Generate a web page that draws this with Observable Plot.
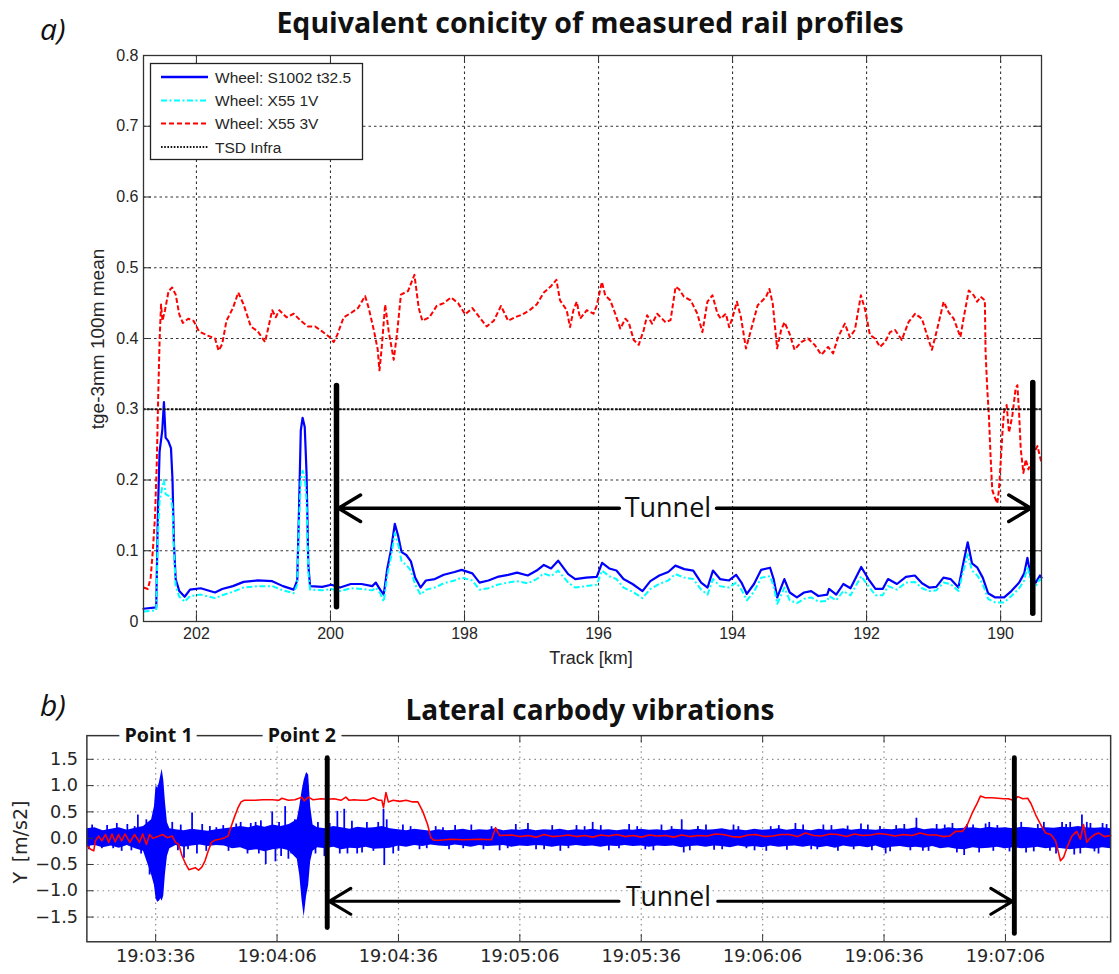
<!DOCTYPE html>
<html><head><meta charset="utf-8">
<script src="https://cdn.jsdelivr.net/npm/d3@7"></script>
<script src="https://cdn.jsdelivr.net/npm/@observablehq/plot@0.6"></script>
<style>
body{margin:0;background:#fff;}
#wrap{position:relative;width:1119px;height:974px;overflow:hidden;background:#fff;}
#wrap svg.chart{position:absolute;left:0;}
#overlay{position:absolute;left:0;top:0;pointer-events:none;}
</style></head>
<body><div id="wrap"></div>
<script>
// ---------------- (a) Equivalent conicity ----------------
const kmTicks = [202, 200, 198, 196, 194, 192, 190];
const kmTickLabels = ["202", "200", "198", "196", "194", "192", "190"];
const conTicks = [0, 0.1, 0.2, 0.3, 0.4, 0.5, 0.6, 0.7, 0.8];
const conTickLabels = ["0", "0.1", "0.2", "0.3", "0.4", "0.5", "0.6", "0.7", "0.8"];
const kmDomain = [202.79, 189.39];
const conDomain = [0, 0.8];

const kmBC = [202.79,202.60,202.576,202.55,202.51,202.485,202.46,202.42,202.38,202.357,
202.336,202.31,202.256,202.176,202.096,201.936,201.723,201.616,201.456,201.296,
201.083,200.869,200.709,200.549,200.496,200.469,200.443,200.416,200.384,200.357,
200.331,200.304,200.123,199.989,199.856,199.696,199.536,199.376,199.323,199.259,
199.205,199.152,199.099,199.04,198.992,198.939,198.869,198.80,198.736,198.656,
198.576,198.443,198.309,198.149,198.043,197.883,197.776,197.643,197.509,197.349,
197.216,197.056,196.923,196.816,196.709,196.603,196.453,196.347,196.187,196.027,
195.947,195.84,195.733,195.627,195.493,195.344,195.227,195.093,194.96,194.853,
194.72,194.587,194.469,194.373,194.293,194.187,194.053,193.947,193.867,193.787,
193.68,193.573,193.44,193.387,193.333,193.227,193.147,193.04,192.933,192.827,
192.72,192.587,192.56,192.453,192.347,192.24,192.08,191.973,191.867,191.76,
191.68,191.547,191.413,191.28,191.173,191.067,190.96,190.853,190.747,190.629,
190.56,190.491,190.427,190.347,190.267,190.187,190.08,189.947,189.84,189.723,
189.648,189.6,189.547,189.477,189.413,189.39];

const wheelS1002 = [0.018,0.020,0.15,0.24,0.27,0.31,0.26,0.255,0.245,0.20,
0.11,0.06,0.043,0.035,0.045,0.047,0.041,0.046,0.050,0.056,
0.058,0.057,0.050,0.045,0.058,0.16,0.27,0.288,0.275,0.21,
0.08,0.050,0.049,0.052,0.048,0.053,0.053,0.050,0.055,0.045,
0.038,0.075,0.10,0.138,0.122,0.098,0.094,0.085,0.062,0.048,
0.058,0.060,0.066,0.070,0.073,0.068,0.055,0.058,0.063,0.066,
0.069,0.065,0.072,0.080,0.075,0.086,0.067,0.060,0.062,0.063,
0.083,0.075,0.072,0.060,0.053,0.043,0.057,0.065,0.070,0.079,
0.074,0.072,0.055,0.048,0.072,0.060,0.058,0.066,0.055,0.039,
0.053,0.073,0.076,0.060,0.034,0.060,0.041,0.034,0.041,0.043,
0.036,0.038,0.046,0.038,0.053,0.047,0.077,0.060,0.046,0.046,
0.060,0.053,0.063,0.065,0.054,0.048,0.049,0.062,0.060,0.048,
0.081,0.112,0.082,0.076,0.062,0.040,0.034,0.034,0.043,0.055,
0.068,0.090,0.062,0.055,0.065,0.062];

const wheelX55_1V = [0.014,0.016,0.12,0.17,0.19,0.20,0.18,0.178,0.175,0.16,
0.10,0.05,0.035,0.028,0.036,0.038,0.033,0.037,0.042,0.048,
0.050,0.050,0.044,0.040,0.052,0.14,0.20,0.213,0.205,0.17,
0.07,0.045,0.044,0.046,0.043,0.047,0.046,0.044,0.048,0.040,
0.028,0.065,0.09,0.125,0.11,0.085,0.08,0.072,0.052,0.038,
0.045,0.048,0.054,0.058,0.062,0.058,0.045,0.047,0.052,0.055,
0.057,0.054,0.060,0.068,0.064,0.072,0.055,0.048,0.050,0.052,
0.072,0.064,0.060,0.048,0.042,0.033,0.046,0.053,0.058,0.067,
0.062,0.060,0.045,0.038,0.060,0.050,0.048,0.055,0.045,0.030,
0.042,0.062,0.064,0.050,0.025,0.048,0.030,0.026,0.032,0.034,
0.028,0.029,0.036,0.030,0.043,0.037,0.064,0.050,0.037,0.037,
0.050,0.045,0.055,0.056,0.047,0.043,0.044,0.055,0.053,0.043,
0.070,0.095,0.072,0.065,0.053,0.032,0.027,0.027,0.036,0.047,
0.058,0.078,0.055,0.050,0.060,0.058];

const kmRed = [202.789,202.725,202.683,202.651,202.619,202.592,202.571,202.549,202.528,202.507,
202.469,202.416,202.363,202.309,202.256,202.203,202.123,202.043,201.963,201.829,
201.723,201.669,201.616,201.552,201.456,201.376,201.296,201.189,201.083,200.976,
200.869,200.816,200.763,200.656,200.549,200.443,200.336,200.229,200.123,200.016,
199.952,199.899,199.803,199.696,199.589,199.483,199.429,199.349,199.296,199.269,
199.237,199.184,199.131,199.056,199.003,198.949,198.843,198.747,198.683,198.629,
198.523,198.416,198.309,198.203,198.096,197.989,197.883,197.776,197.669,197.563,
197.456,197.349,197.243,197.136,197.029,196.923,196.816,196.709,196.629,196.575,
196.475,196.425,196.375,196.325,196.275,196.175,196.075,196.025,195.95,195.9,
195.825,195.75,195.675,195.6,195.55,195.475,195.4,195.325,195.275,195.2,
195.125,195.0,194.925,194.85,194.8,194.725,194.625,194.525,194.45,194.375,
194.3,194.225,194.175,194.1,194.05,194.0,193.935,193.875,193.8,193.725,
193.625,193.55,193.5,193.45,193.4,193.335,193.275,193.225,193.15,193.075,
192.975,192.875,192.775,192.675,192.575,192.5,192.425,192.325,192.25,192.175,
192.085,192.025,191.95,191.875,191.8,191.725,191.65,191.575,191.475,191.375,
191.275,191.175,191.075,191.025,190.95,190.85,190.775,190.7,190.6,190.55,
190.475,190.4,190.35,190.3,190.235,190.225,190.2,190.175,190.15,190.125,
190.09,190.05,190.025,190.0,189.975,189.95,189.91,189.875,189.825,189.775,
189.75,189.725,189.7,189.66,189.625,189.585,189.55,189.5,189.45,189.39];

const wheelX55_3V = [0.048,0.046,0.062,0.10,0.147,0.223,0.317,0.40,0.448,0.425,
0.44,0.467,0.472,0.462,0.434,0.422,0.428,0.425,0.41,0.404,
0.40,0.383,0.392,0.425,0.443,0.465,0.448,0.417,0.41,0.395,
0.44,0.43,0.44,0.43,0.435,0.425,0.417,0.417,0.41,0.402,
0.395,0.405,0.43,0.436,0.443,0.46,0.443,0.41,0.385,0.355,
0.385,0.448,0.41,0.37,0.41,0.462,0.467,0.49,0.443,0.425,
0.43,0.446,0.45,0.458,0.45,0.434,0.443,0.43,0.417,0.425,
0.446,0.425,0.43,0.434,0.44,0.448,0.465,0.474,0.483,0.454,
0.44,0.416,0.44,0.452,0.428,0.44,0.435,0.447,0.48,0.461,
0.454,0.435,0.414,0.428,0.423,0.398,0.391,0.412,0.433,0.421,
0.435,0.423,0.426,0.473,0.47,0.459,0.454,0.435,0.409,0.452,
0.461,0.435,0.428,0.435,0.416,0.43,0.452,0.43,0.386,0.412,
0.447,0.454,0.459,0.47,0.449,0.386,0.412,0.423,0.407,0.384,
0.395,0.40,0.391,0.377,0.388,0.379,0.402,0.421,0.402,0.412,
0.461,0.442,0.405,0.40,0.388,0.395,0.409,0.412,0.398,0.423,
0.435,0.428,0.398,0.384,0.412,0.452,0.437,0.428,0.402,0.43,
0.468,0.461,0.452,0.459,0.454,0.382,0.33,0.291,0.234,0.186,
0.176,0.167,0.186,0.224,0.263,0.296,0.306,0.267,0.291,0.33,
0.334,0.296,0.244,0.21,0.229,0.215,0.224,0.239,0.248,0.224];

const tsdInfra = [0.3];
const tunnelKm = [199.91, 189.52];
const tunnelBarTop = [0.333, 0.337];
const tunnelBarBottom = [0.02, 0.011];
const tunnelGapKm = [195.69, 194.24];
const tunnelArrowY = 0.16;
const tunnelLabel = "Tunnel";

// ---------------- (b) Lateral carbody vibrations ----------------
const timeTicks = [0, 30, 60, 90, 120, 150, 180, 210];
const timeLabels = ["19:03:36", "19:04:06", "19:04:36", "19:05:06", "19:05:36", "19:06:06", "19:06:36", "19:07:06"];
const accTicks = [-1.5, -1, -0.5, 0, 0.5, 1, 1.5];
const accLabels = ["\u22121.5", "\u22121.0", "\u22120.5", "0.0", "0.5", "1.0", "1.5"];
const timeDomain = [-17, 236];
const accDomain = [-1.97, 1.95];

const bandT = [-17,-15,-13,-11,-9,-7,-5,-3,-1,-0.3,
0.1,0.5,0.9,1.3,1.6,2.0,2.4,2.9,3.5,5,
7,9,11,13,15,17,19,21,23,25,
27,29,31,33,35,35.6,36.2,36.7,37.3,37.8,
38.3,38.9,
40,42,44,46,48,50,52,54,56,58,
60,62,64,66,68,70,72,74,76,78,
80,82,84,86,88,90,92,94,96,98,
100,102,104,106,108,110,112,114,116,118,
120,122,124,126,128,130,132,134,136,138,
140,142,144,146,148,150,152,154,156,158,
160,162,164,166,168,170,172,174,176,178,
180,182,184,186,188,190,192,194,196,198,
200,202,204,206,208,210,212,214,216,218,
220,222,224,226,228,230,232,234,236];
const bandHi = [.18,.2,.14,.17,.2,.15,.19,.22,.35,.6,
1.0,.95,1.05,1.2,1.31,1.1,.7,.3,.18,.16,
.14,.17,.15,.13,.16,.18,.2,.22,.2,.24,
.21,.25,.22,.26,.35,.6,.9,1.1,1.25,1.2,
.6,.25,
.2,.18,.22,.2,.17,.21,.19,.2,.22,.18,
.16,.14,.17,.15,.13,.16,.14,.15,.17,.14,
.16,.15,.18,.14,.16,.15,.17,.14,.16,.15,
.17,.14,.16,.15,.17,.15,.16,.14,.16,.15,
.17,.15,.16,.14,.17,.16,.15,.17,.15,.16,
.18,.15,.16,.14,.17,.15,.16,.18,.15,.17,
.16,.14,.17,.15,.16,.18,.15,.17,.16,.15,
.17,.16,.18,.17,.2,.16,.18,.17,.2,.18,
.19,.2,.18,.21,.19,.2,.18,.21,.2,.18,
.2,.19,.21,.2,.22,.2,.19,.2,.18];
const bandLo = [-.16,-.14,-.18,-.15,-.19,-.14,-.2,-.25,-.7,-.9,
-1.15,-1.22,-1.2,-1.15,-1.2,-1.1,-.7,-.35,-.2,-.14,
-.17,-.15,-.13,-.16,-.14,-.15,-.2,-.18,-.24,-.22,
-.26,-.22,-.2,-.24,-.4,-.7,-1.2,-1.5,-1.1,-.9,
-.45,-.25,
-.18,-.2,-.17,-.22,-.19,-.2,-.17,-.21,-.2,-.19,
-.15,-.17,-.14,-.16,-.13,-.15,-.16,-.13,-.15,-.17,
-.14,-.16,-.15,-.14,-.17,-.15,-.16,-.14,-.15,-.17,
-.15,-.16,-.14,-.16,-.15,-.17,-.15,-.16,-.14,-.16,
-.15,-.17,-.15,-.16,-.15,-.18,-.16,-.15,-.17,-.15,
-.16,-.18,-.15,-.17,-.16,-.18,-.15,-.17,-.16,-.15,
-.17,-.15,-.18,-.16,-.19,-.15,-.17,-.16,-.18,-.15,
-.2,-.17,-.16,-.18,-.17,-.19,-.16,-.2,-.18,-.21,
-.22,-.18,-.2,-.19,-.17,-.2,-.18,-.2,-.19,-.17,
-.2,-.18,-.2,-.22,-.2,-.19,-.21,-.18,-.2];

const spikeT = [-15.7,-13.3,-9.6,-8.4,-4.4,-3.6,-2.3,-1.5,4.1,7.0,
9.0,10.2,13.4,16.7,19.9,22.7,24.7,27.2,28.8,29.6,
32.0,32.8,34.4,40.1,41.7,44.9,46.6,47.4,49.8,52.2,
53.8,56.3,56.5,57.1,58.7,61.1,65.2,69.2,74,78,
81,85,89,92,96,100,104,108,112,117,
121,125,130,130.5,134,138,142.8,146,150.9,154,
158.1,162,165,168.6,171,174.3,177,180.4,183,188.0,
189.6,193,196.9,199.8,202,205.1,207,209.5,213.9,215.1,
218,221,224,226.0,228.5,228.9,230.1,232,234,
-16.5,-12,-10.5,-7,-6,-5.2,5.5,6.2,8,11.5,
12.5,15,18,21,23.5,25.5,26,30.5,31,33.5,
39.5,43,45.5,48.5,51,55,60,63,67,71,
72.5,76,83,87,94,98,102,106,110,114.5,
119,123,127.5,132,136,140,144,148,152,156,
160,163.5,167,172.5,176,179,181.5,185,186.5,191,
195,198,200.5,203.5,206,208,211,212.5,217,219.5,
222.5,225,227,231,233,235];
const spikeV = [.25,-.2,.28,-.25,.44,-.3,.35,-.7,.3,-.38,
.48,-.3,.22,.24,.27,-.3,.3,-.5,.5,-.45,
.6,-.4,.35,.3,-.35,.51,.55,-.3,-.3,.3,
-.25,.55,-.52,.35,-.3,.25,-.22,.22,.24,.25,
-.22,-.24,.26,.28,-.22,-.25,.24,.3,-.24,.26,
-.22,.25,.35,-.28,.22,-.23,.25,-.2,-.25,.24,
.28,-.22,.25,-.25,.23,.27,-.24,-.3,.24,.38,
-.25,.26,.28,-.33,.25,.27,-.25,-.2,.3,-.28,
.26,-.25,.3,.3,-.3,.44,.3,-.26,.28,
-.22,.24,-.2,.26,-.24,.22,-.24,.25,-.22,.26,
-.25,.2,-.25,.3,.28,-.3,.33,.3,-.35,-.3,
-.3,.28,-.3,.32,-.28,.3,-.25,.22,-.2,.2,
-.22,-.2,.22,-.2,-.22,.24,-.2,.22,.24,-.2,
.22,-.24,.22,-.24,.25,-.22,.22,-.24,.22,-.23,
.25,-.22,.24,-.22,.25,.22,-.26,.26,-.24,-.25,
.25,-.28,.26,-.28,.3,.24,-.26,.28,-.26,.3,
-.3,.26,-.32,.28,-.3,.26];

const redT = [-16.9,-16.1,-15.3,-14.9,-14.1,-13.3,-12.4,-11.6,-10.8,-10.0,
-9.2,-8.4,-7.6,-6.4,-5.2,-4.0,-3.2,-2.3,-1.5,-0.7,
0.5,1.7,2.9,4.1,4.9,5.7,6.5,7.4,8.2,9.0,
9.8,10.6,11.4,12.2,13.0,13.8,14.6,15.8,17.1,17.9,
18.7,19.5,20.3,21.1,21.9,23.1,24.7,26.4,28.8,30.4,
31.2,32.8,34.4,36.1,36.7,37.7,38.9,40.9,42.5,44.1,
45.8,47.0,47.8,49.0,50.6,52.2,53.8,55.1,55.9,56.3,
56.9,57.5,58.7,60.3,61.9,63.5,64.8,66.0,67.2,68.0,
68.8,70.0,71.6,73.2,76,80,83,84,85,88,
90,92,94,96,98,100,102,104,106,108,
110,112,114,116,118,120,122,124,126,128,
130,132,134,136.3,138.3,140.3,142.4,144.4,146.4,148.4,
150.5,152.5,154.5,156.5,158.6,160.6,162.6,164.6,166.6,168.6,
170.7,172.7,174.7,176.7,178.8,180.8,182.8,184.8,186.9,188.9,
190.9,192.9,194.6,196.2,197.7,199.4,200.6,201.8,203.0,203.8,
205.0,206.6,208.2,209.5,210.7,211.9,213.1,214.3,215.5,216.3,
217.5,218.7,219.9,221.2,222.4,223.6,224.4,225.2,226.4,227.6,
228.5,229.3,230.1,230.9,232.1,233.0,234.5,236];
const redV = [-0.146,-0.21,-0.24,-0.05,0.04,-0.05,0.07,-0.08,0.08,-0.07,
0.07,-0.05,0.08,-0.08,0.07,-0.08,0.08,-0.12,0.07,0.0,
0.03,0.07,0.01,0.04,-0.08,-0.12,-0.33,-0.49,-0.6,-0.58,
-0.56,-0.61,-0.55,-0.43,-0.24,-0.08,-0.04,-0.02,0.01,0.04,
0.23,0.41,0.57,0.69,0.72,0.72,0.72,0.73,0.73,0.72,
0.76,0.72,0.73,0.78,0.71,0.78,0.73,0.75,0.74,0.75,
0.72,0.78,0.72,0.73,0.72,0.72,0.77,0.72,0.72,0.58,
0.87,0.69,0.72,0.70,0.72,0.69,0.69,0.51,0.26,0.01,
-0.04,-0.04,-0.03,-0.02,-0.03,-0.02,-0.03,0.2,0.05,0.06,
0.03,0.05,0.02,0.07,0.03,0.04,0.06,0.03,0.05,0.02,
0.06,0.04,0.07,0.03,0.05,0.02,0.06,0.04,0.05,0.02,
0.06,0.03,0.05,0.04,0.08,0.07,0.03,0.02,0.06,0.07,
0.03,0.04,0.07,0.07,0.03,0.10,0.05,0.04,0.08,0.07,
0.03,0.08,0.05,0.06,0.09,0.07,0.04,0.07,0.05,0.10,
0.06,0.06,0.03,0.04,0.13,0.13,0.26,0.48,0.66,0.80,
0.77,0.77,0.76,0.75,0.75,0.72,0.79,0.75,0.76,0.66,
0.44,0.26,0.10,0.07,-0.05,-0.43,-0.36,-0.18,0.04,0.13,
-0.02,0.26,-0.08,0.0,0.07,0.1,0.03,0.05];

const pointLabels = ["Point 1", "Point 2"];
const pointT = [0.7, 36.1];
const tunnelT = [42.4, 212.2];
const tunnelAccTop = [1.52, 1.52];
const tunnelAccBottom = [-1.71, -1.82];
const tunnelGapT = [114.5, 138.9];
const tunnelAccArrowY = -1.2;

// ---------------- build rows ----------------
const blueRows = kmBC.map((k, i) => ({km: k, v: wheelS1002[i]}));
const cyanRows = kmBC.map((k, i) => ({km: k, v: wheelX55_1V[i]}));
const redRows = kmRed.map((k, i) => ({km: k, v: wheelX55_3V[i]}));
const barRowsA = tunnelKm.map((k, i) => ({k, y1: tunnelBarBottom[i], y2: tunnelBarTop[i]}));
const arrowRowsA = [
  {x1: tunnelGapKm[0], x2: tunnelKm[0], y: tunnelArrowY},
  {x1: tunnelGapKm[1], x2: tunnelKm[1], y: tunnelArrowY}
];
const bandRows = bandT.map((t, i) => ({t, lo: bandLo[i], hi: bandHi[i]}));
const spikeRows = spikeT.map((t, i) => ({t, v: spikeV[i]}));
const accRows = redT.map((t, i) => ({t, v: redV[i]}));
const barRowsB = tunnelT.map((t, i) => ({t, y1: tunnelAccBottom[i], y2: tunnelAccTop[i]}));
const arrowRowsB = [
  {x1: tunnelGapT[0], x2: tunnelT[0], y: tunnelAccArrowY},
  {x1: tunnelGapT[1], x2: tunnelT[1], y: tunnelAccArrowY}
];
const pointRows = pointLabels.map((p, i) => ({p, t: pointT[i]}));

const annFont = "'Open Sans', Lato, sans-serif";
const kmTickLen = 0.12, conTickLen = 0.011;
const gridA = {stroke: "#333", strokeOpacity: 1, strokeWidth: 1.1, strokeDasharray: "2.5,3"};

const topPlot = Plot.plot({
  width: 1119, height: 680,
  marginLeft: 143, marginRight: 78, marginTop: 55, marginBottom: 59,
  style: {fontFamily: "'Liberation Sans', Arial, sans-serif", fontSize: "16px", color: "#262626", background: "white", overflow: "visible"},
  x: {domain: kmDomain, ticks: kmTicks, tickFormat: d => kmTickLabels[kmTicks.indexOf(d)], tickSize: 0, tickPadding: 6, label: null},
  y: {domain: conDomain, ticks: conTicks, tickFormat: d => conTickLabels[conTicks.indexOf(d)], tickSize: 0, tickPadding: 5, label: null},
  marks: [
    Plot.gridX(kmTicks, gridA),
    Plot.gridY(conTicks.slice(1, -1), gridA),
    Plot.line(blueRows, {x: "km", y: "v", stroke: "#0000ff", strokeWidth: 2.2}),
    Plot.line(cyanRows, {x: "km", y: "v", stroke: "#00ffff", strokeWidth: 2, strokeDasharray: "6,2.5,2,2.5", strokeLinecap: "butt"}),
    Plot.line(redRows, {x: "km", y: "v", stroke: "#ff0000", strokeWidth: 2, strokeDasharray: "5,2.5", strokeLinecap: "butt"}),
    Plot.ruleY(tsdInfra, {stroke: "#111", strokeWidth: 2, strokeDasharray: "2.5,1.5"}),
    Plot.ruleX(kmTicks, {x: d => d, y1: conDomain[0], y2: conDomain[0] + conTickLen, stroke: "#333"}),
    Plot.ruleX(kmTicks, {x: d => d, y1: conDomain[1], y2: conDomain[1] - conTickLen, stroke: "#333"}),
    Plot.ruleY(conTicks, {y: d => d, x1: kmDomain[0], x2: kmDomain[0] - kmTickLen, stroke: "#333"}),
    Plot.ruleY(conTicks, {y: d => d, x1: kmDomain[1], x2: kmDomain[1] + kmTickLen, stroke: "#333"}),
    Plot.frame({stroke: "#333", strokeWidth: 1.3}),
    Plot.ruleX(barRowsA, {x: "k", y1: "y1", y2: "y2", stroke: "#000", strokeWidth: 5.5, strokeLinecap: "round"}),
    Plot.arrow(arrowRowsA, {x1: "x1", x2: "x2", y1: "y", y2: "y", stroke: "#000", strokeWidth: 3.5, headLength: 11, headAngle: 62, insetEnd: 2}),
    Plot.text([tunnelLabel], {x: (tunnelGapKm[0] + tunnelGapKm[1]) / 2, y: tunnelArrowY, text: d => d, fontFamily: annFont, fontSize: 27, fill: "#111", dy: 0})
  ]
});
topPlot.classList.add("chart");
topPlot.style.top = "0px";

const gridB = {stroke: "#8a8a8a", strokeOpacity: 1, strokeWidth: 1.2, strokeDasharray: "1.5,4"};
const accTickLen = 0.14, tTickLen = 1.8;
const botPlot = Plot.plot({
  width: 1140, height: 284,
  marginLeft: 88, marginRight: 9, marginTop: 46, marginBottom: 28,
  style: {fontFamily: "'DejaVu Sans', sans-serif", fontSize: "18px", color: "#262626", background: "white", overflow: "visible"},
  x: {domain: timeDomain, ticks: timeTicks, tickFormat: d => timeLabels[timeTicks.indexOf(d)], tickSize: 0, tickPadding: 8, label: null},
  y: {domain: accDomain, ticks: accTicks, tickFormat: d => accLabels[accTicks.indexOf(d)], tickSize: 0, tickPadding: 9, label: null},
  marks: [
    Plot.gridX(timeTicks, gridB),
    Plot.gridY(accTicks, gridB),
    Plot.areaY(bandRows, {x: "t", y1: "lo", y2: "hi", fill: "#0000ff"}),
    Plot.ruleX(spikeRows, {x: "t", y1: 0, y2: "v", stroke: "#0000ff", strokeWidth: 1.8}),
    Plot.line(accRows, {x: "t", y: "v", stroke: "#ff0000", strokeWidth: 1.6}),
    Plot.ruleX(timeTicks, {x: d => d, y1: accDomain[0], y2: accDomain[0] + accTickLen, stroke: "#333"}),
    Plot.ruleX(timeTicks, {x: d => d, y1: accDomain[1], y2: accDomain[1] - accTickLen, stroke: "#333"}),
    Plot.ruleY(accTicks, {y: d => d, x1: timeDomain[0], x2: timeDomain[0] + tTickLen, stroke: "#333"}),
    Plot.frame({stroke: "#333", strokeWidth: 1.5}),
    Plot.ruleX(barRowsB, {x: "t", y1: "y1", y2: "y2", stroke: "#000", strokeWidth: 5, strokeLinecap: "round"}),
    Plot.arrow(arrowRowsB, {x1: "x1", x2: "x2", y1: "y", y2: "y", stroke: "#000", strokeWidth: 3.2, headLength: 12, headAngle: 62, insetEnd: 2}),
    Plot.text([tunnelLabel], {x: (tunnelGapT[0] + tunnelGapT[1]) / 2, y: tunnelAccArrowY, text: d => d, fontFamily: annFont, fontSize: 27, fill: "#111", dy: -4}),
    Plot.text(pointRows, {x: "t", y: accDomain[1], text: "p", fontFamily: annFont, fontWeight: "bold", fontSize: 20, fill: "#111", stroke: "white", strokeWidth: 14, strokeLinejoin: "round"})
  ]
});
botPlot.classList.add("chart");
botPlot.style.top = "690px";

const wrap = document.getElementById("wrap");
wrap.appendChild(topPlot);
wrap.appendChild(botPlot);

// ---------------- overlay: titles, labels, legend ----------------
const NS = "http://www.w3.org/2000/svg";
const ov = document.createElementNS(NS, "svg");
ov.setAttribute("id", "overlay");
ov.setAttribute("width", 1119);
ov.setAttribute("height", 974);
function txt(str, attrs) {
  const t = document.createElementNS(NS, "text");
  for (const k in attrs) t.setAttribute(k, attrs[k]);
  t.textContent = str;
  ov.appendChild(t);
  return t;
}
function el(name, attrs) {
  const e = document.createElementNS(NS, name);
  for (const k in attrs) e.setAttribute(k, attrs[k]);
  ov.appendChild(e);
  return e;
}
txt("a)", {x: 40, y: 40, "font-family": annFont, "font-style": "italic", "font-size": 30, fill: "#111"});
txt("Equivalent conicity of measured rail profiles", {x: 590, y: 33, "text-anchor": "middle", "font-family": annFont, "font-weight": "bold", "font-size": 28.5, fill: "#111"});
txt("tge-3mm 100m mean", {transform: "translate(104,339) rotate(-90)", "text-anchor": "middle", "font-family": "'Liberation Sans', Arial, sans-serif", "font-size": 19, fill: "#262626"});
txt("Track [km]", {x: 591, y: 664, "text-anchor": "middle", "font-family": "'Liberation Sans', Arial, sans-serif", "font-size": 18, fill: "#262626"});
txt("b)", {x: 40, y: 716, "font-family": annFont, "font-style": "italic", "font-size": 30, fill: "#111"});
txt("Lateral carbody vibrations", {x: 590, y: 720, "text-anchor": "middle", "font-family": annFont, "font-weight": "bold", "font-size": 28, fill: "#111"});
txt("Y\u2002[m/s2]", {transform: "translate(27,842) rotate(-90)", "text-anchor": "middle", "font-family": "'DejaVu Sans', sans-serif", "font-size": 19, fill: "#262626"});

// legend of chart (a)
const legendNames = ["Wheel: S1002 t32.5", "Wheel: X55 1V", "Wheel: X55 3V", "TSD Infra"];
const legendStyles = [
  {stroke: "#0000ff", w: 2.5, dash: "none"},
  {stroke: "#00ffff", w: 2.2, dash: "6,2.5,2,2.5"},
  {stroke: "#ff0000", w: 2.2, dash: "5,3"},
  {stroke: "#111", w: 2, dash: "1.6,1.6"}
];
el("rect", {x: 150.5, y: 63.5, width: 212, height: 96, fill: "white", stroke: "#222", "stroke-width": 1.3});
const legendY = [77, 100.5, 123.5, 147];
legendNames.forEach((n, i) => {
  const s = legendStyles[i];
  el("line", {x1: 161, x2: 208, y1: legendY[i], y2: legendY[i], stroke: s.stroke, "stroke-width": s.w, "stroke-dasharray": s.dash});
  txt(n, {x: 215, y: legendY[i] + 5.5, "font-family": "'Liberation Sans', Arial, sans-serif", "font-size": 15.5, fill: "#262626"});
});
wrap.appendChild(ov);
</script>
</body></html>
